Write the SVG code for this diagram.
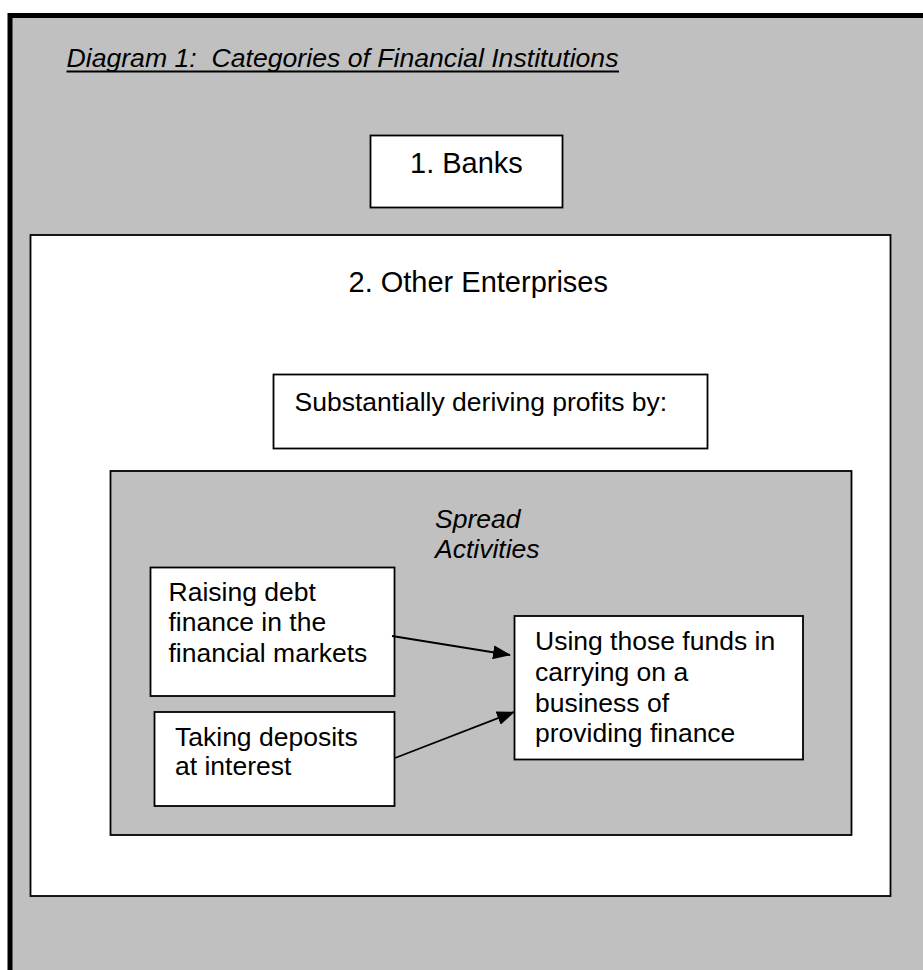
<svg xmlns="http://www.w3.org/2000/svg" width="923" height="970" viewBox="0 0 923 970">
<defs>
<style>
.t{font-family:"Liberation Sans",Arial,sans-serif;font-size:26.5px;fill:#000}
.big{font-size:29px}
.it{font-style:italic}
.box{fill:#fff;stroke:#000;stroke-width:1.8}
.conn{stroke:#000;stroke-width:1.8;fill:none}
</style>
<marker id="ah" markerWidth="18" markerHeight="14" refX="17" refY="7" orient="auto" markerUnits="userSpaceOnUse">
<path d="M0,0 L18,7 L0,14 Z" fill="#000"/>
</marker>
</defs>
<rect width="923" height="970" fill="#fff"/>
<g id="frame">
<rect x="10" y="15.5" width="930" height="970" fill="#c0c0c0" stroke="#000" stroke-width="5"/>
</g>
<g id="title">
<text class="t it" x="66.5" y="66.5" textLength="552" lengthAdjust="spacingAndGlyphs" xml:space="preserve">Diagram 1:  Categories of Financial Institutions</text>
<rect x="66.5" y="70.5" width="552.5" height="2" fill="#000"/>
</g>
<g id="banks">
<rect class="box" x="370.5" y="135.5" width="192" height="72"/>
<text class="t big" x="410" y="173">1. Banks</text>
</g>
<g id="other-enterprises">
<rect class="box" x="30.5" y="235" width="860" height="661" stroke-width="2"/>
<text class="t big" x="348.5" y="291.5">2. Other Enterprises</text>
</g>
<g id="substantially">
<rect class="box" x="273.5" y="374.5" width="434" height="74"/>
<text class="t" x="294.5" y="411">Substantially deriving profits by:</text>
</g>
<g id="spread">
<rect x="110.5" y="471" width="741" height="364" fill="#c0c0c0" stroke="#000" stroke-width="1.8"/>
<text class="t it" x="435" y="528">Spread</text>
<text class="t it" x="435" y="558">Activities</text>
</g>
<g id="raising">
<rect class="box" x="150.5" y="567.5" width="244" height="128.5"/>
<text class="t" x="168.5" y="601">Raising debt</text>
<text class="t" x="168.5" y="631">finance in the</text>
<text class="t" x="168.5" y="661.5">financial markets</text>
</g>
<g id="taking">
<rect class="box" x="154.5" y="712" width="240" height="94"/>
<text class="t" x="175" y="746">Taking deposits</text>
<text class="t" x="175" y="775">at interest</text>
</g>
<g id="using">
<rect class="box" x="514.5" y="616" width="288.5" height="143.5"/>
<text class="t" x="535" y="650">Using those funds in</text>
<text class="t" x="535" y="680.5">carrying on a</text>
<text class="t" x="535" y="711.5">business of</text>
<text class="t" x="535" y="741.5">providing finance</text>
</g>
<g id="connectors">
<line class="conn" x1="392" y1="636" x2="510" y2="655" marker-end="url(#ah)"/>
<line class="conn" x1="395" y1="758" x2="514" y2="712" marker-end="url(#ah)"/>
</g>
</svg>
